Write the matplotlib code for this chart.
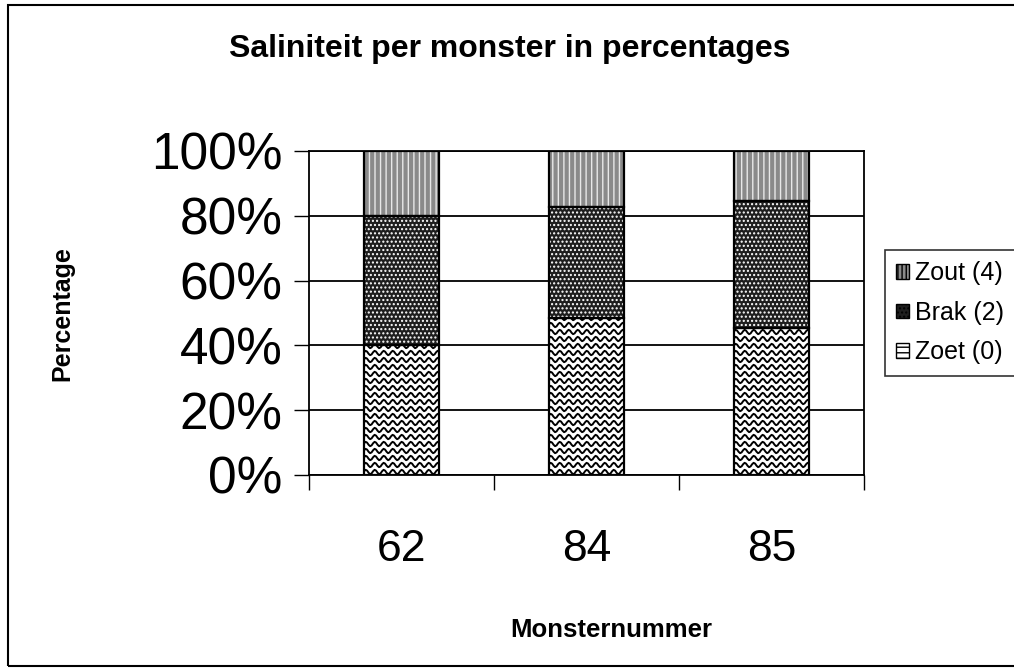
import numpy as np
import matplotlib
matplotlib.use("Agg")
import matplotlib.pyplot as plt
from matplotlib.patches import Rectangle, Patch
from matplotlib.lines import Line2D

plt.rcParams['font.family'] = ['Liberation Sans', 'DejaVu Sans']
plt.rcParams['hatch.linewidth'] = 1.0

categories = ["62", "84", "85"]
zoet = [40.0, 48.5, 45.3]
brak = [40.0, 34.3, 39.3]
zout = [20.0, 17.2, 15.4]
series_names = ["Zoet (0)", "Brak (2)", "Zout (4)"]
yticks = [0, 20, 40, 60, 80, 100]

W, H, DPI = 1014, 670, 100
fig = plt.figure(figsize=(W / DPI, H / DPI), dpi=DPI)
ax = fig.add_axes([309 / W, 1 - 475 / H, (864 - 309) / W, (475 - 151) / H])

x = np.arange(len(categories))
bw = 0.41
zoet_a = np.array(zoet)
brak_a = np.array(brak)
zout_a = np.array(zout)

ZOUT_C = "#8a8a8a"
BRAK_C = "#1e1e1e"

# Zoet: white with wavy pattern
b_zoet = ax.bar(x, zoet_a, bw, color="white", edgecolor="black", linewidth=1.6, zorder=3)
# Brak: dark with white dots
ax.bar(x, brak_a, bw, bottom=zoet_a, color=BRAK_C, edgecolor="black", linewidth=0, zorder=3)
ax.bar(x, brak_a, bw, bottom=zoet_a, color="none", edgecolor="white", hatch="....", linewidth=0, zorder=3.1)
ax.bar(x, brak_a, bw, bottom=zoet_a, color="none", edgecolor="black", linewidth=1.6, zorder=3.2)
# Zout: gray vertical stripes
ax.bar(x, zout_a, bw, bottom=zoet_a + brak_a, color=ZOUT_C, edgecolor="black", linewidth=0, zorder=3)
ax.bar(x, zout_a, bw, bottom=zoet_a + brak_a, color="none", edgecolor="#e8e8e8", hatch="|||", linewidth=0, zorder=3.1)
ax.bar(x, zout_a, bw, bottom=zoet_a + brak_a, color="none", edgecolor="black", linewidth=1.6, zorder=3.2)

ax.set_xlim(-0.5, len(categories) - 0.5)
ax.set_ylim(0, 100)

# wavy texture for Zoet bars (clipped to each bar)
px_x = (len(categories)) / (864 - 309)   # data units per pixel, x
px_y = 100 / (475 - 151)                 # data units per pixel, y
for patch in b_zoet.patches:
    x0, y0 = patch.get_x(), patch.get_y()
    w, h = patch.get_width(), patch.get_height()
    xs = np.arange(x0 - 10 * px_x, x0 + w + 10 * px_x, 1.5 * px_x)
    phase = ((xs - x0) / (9 * px_x)) * 2 * np.pi
    for yy in np.arange(y0 + 3 * px_y, y0 + h + 8 * px_y, 7 * px_y):
        ln = Line2D(xs, yy + 2.2 * px_y * np.sin(phase), color="black", lw=1.4, zorder=3.05)
        ax.add_line(ln)
        ln.set_clip_path(patch)

ax.set_yticks(yticks)
ax.set_yticklabels([f"{v}%" for v in yticks], fontsize=37)
ax.yaxis.grid(True, color="black", linewidth=1.3, zorder=0)
ax.set_axisbelow(True)
ax.tick_params(axis="y", direction="out", length=11, width=1.0, pad=8)

ax.set_xticks(np.arange(-0.5, len(categories), 1.0))
ax.set_xticklabels([])
ax.set_xticks(x, minor=True)
ax.set_xticklabels(categories, minor=True, fontsize=32)
ax.tick_params(axis="x", which="major", direction="out", length=11, width=1.0)
ax.tick_params(axis="x", which="minor", length=0, pad=39)

for s in ax.spines.values():
    s.set_linewidth(1.3)
    s.set_color("black")

fig.text(510 / W, 1 - 49 / H, "Saliniteit per monster in percentages", ha="center", va="center",
         fontsize=23, fontweight="bold")
fig.text(62 / W, 1 - 314 / H, "Percentage", ha="center", va="center", rotation=90,
         fontsize=18, fontweight="bold")
fig.text(611 / W, 1 - 630 / H, "Monsternummer", ha="center", va="center",
         fontsize=18.5, fontweight="bold")

# legend
h_zout = Patch(facecolor=ZOUT_C, edgecolor="black", hatch="||||", linewidth=1)
h_brak = Patch(facecolor=BRAK_C, edgecolor="black", hatch="....", linewidth=1)
h_zoet = Patch(facecolor="white", edgecolor="black", hatch="---", linewidth=1)
leg = fig.legend([h_zout, h_brak, h_zoet], [series_names[2], series_names[1], series_names[0]],
                 loc="upper left", bbox_to_anchor=(885 / W, 1 - 250 / H), fontsize=18,
                 frameon=True, fancybox=False, shadow=False, handlelength=0.5, handleheight=0.5,
                 handletextpad=0.25, labelspacing=0.62, borderpad=0.45, borderaxespad=0)
leg.get_frame().set_edgecolor("black")
leg.get_frame().set_linewidth(1.2)

# outer border
fig.patches.append(Rectangle((8 / W, 1 - 666 / H), 1.2, (666 - 5) / H, transform=fig.transFigure,
                             fill=False, edgecolor="black", linewidth=1.5))

fig.savefig("out.png", dpi=DPI)
